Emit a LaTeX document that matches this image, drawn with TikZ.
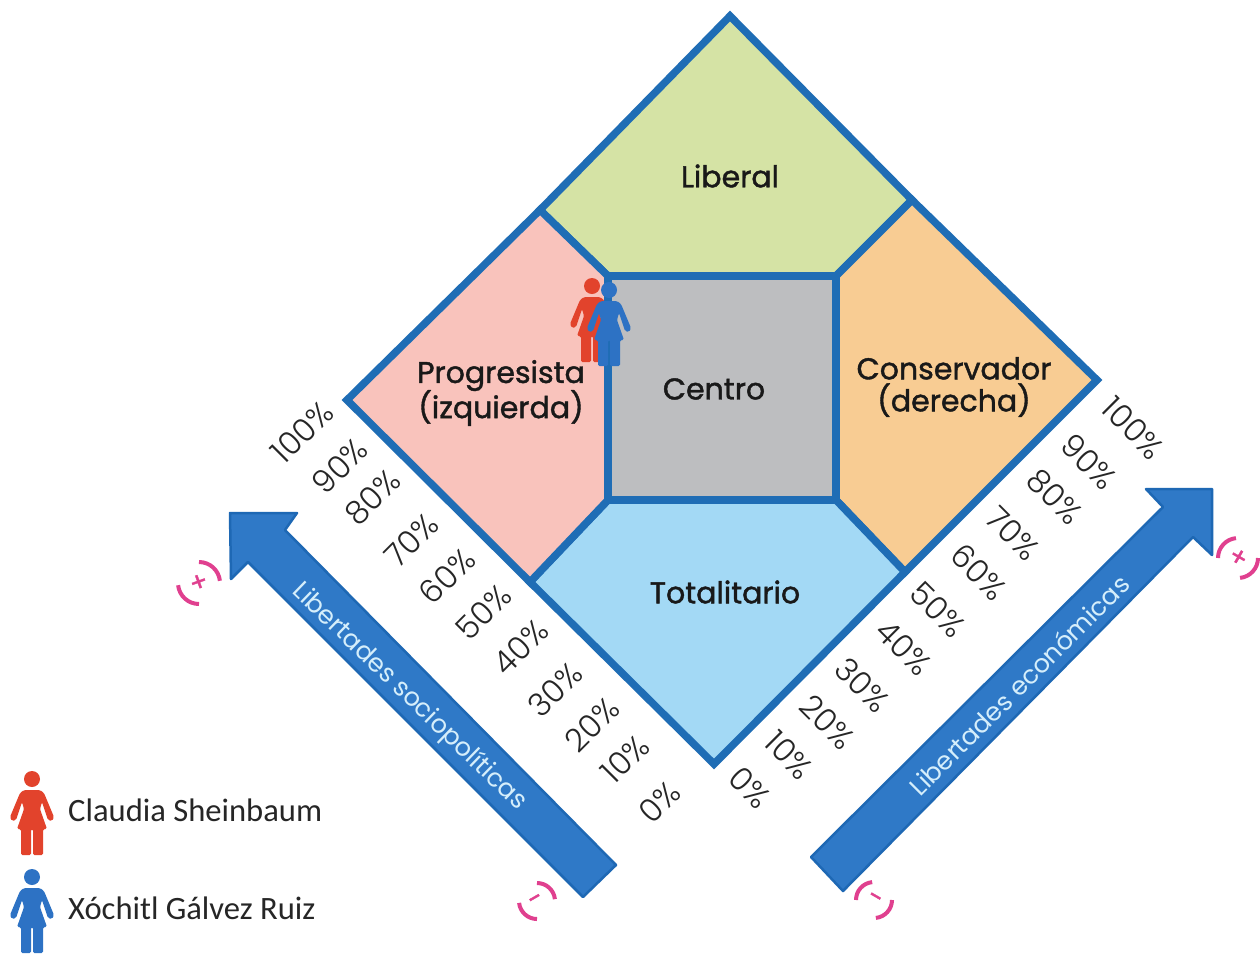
\documentclass[tikz,border=0pt]{standalone}
\usepackage{fontspec}
\setmainfont{Poppins}
\newfontfamily\lab[FakeBold=1.4]{Poppins}
\newfontfamily\thinf{Poppins Light}
\newfontfamily\legf{Carlito}
\definecolor{edgeb}{HTML}{1F6DB5}
\definecolor{arrowb}{HTML}{2F79C7}
\definecolor{arrowd}{HTML}{1E68B4}
\definecolor{gfill}{HTML}{D5E3A5}
\definecolor{pfill}{HTML}{F9C3BC}
\definecolor{ofill}{HTML}{F8CC93}
\definecolor{bfill}{HTML}{A3D9F5}
\definecolor{cfill}{HTML}{BDBEC0}
\definecolor{redp}{HTML}{E2432C}
\definecolor{bluep}{HTML}{2D72C4}
\definecolor{pinks}{HTML}{E0408F}
\definecolor{atext}{HTML}{D5EEFB}
\tikzset{
  region/.style={draw=edgeb,line width=7.5pt,line join=miter},
  zone/.style={font=\lab\fontsize{30}{34}\selectfont,inner sep=0pt,align=center,text=black!90},
  pctl/.style={font=\thinf\fontsize{32}{36}\selectfont,inner sep=0pt,rotate=45,text=black!85},
  pctr/.style={font=\thinf\fontsize{32}{36}\selectfont,inner sep=0pt,rotate=-45,text=black!85},
  bigarrow/.style={fill=arrowb,draw=arrowd,line width=2.5pt,line join=round},
  arrowlabel/.style={font=\fontsize{25.5}{30}\selectfont,text=atext,inner sep=0pt},
  legendtext/.style={font=\legf\fontsize{32.6}{36}\selectfont,anchor=west,inner sep=0pt,text=black!85},
  signarc/.style={draw=pinks,line width=4pt},
  signmark/.style={font=\lab\fontsize{26}{26}\selectfont,text=pinks,inner sep=0pt},
  pics/person/.style={code={
    \fill[#1] (0,0) circle[radius=8];
    \fill[#1,rounded corners=1.5pt] (-8,11) -- (8,11) -- (12,14) -- (22,38) -- (20,42) -- (16,41) -- (10,23) -- (8,30) -- (15,50) -- (11,50) -- (11,76) -- (1,76) -- (1,50) -- (-1,50) -- (-1,76) -- (-11,76) -- (-11,50) -- (-15,50) -- (-8,30) -- (-10,23) -- (-16,41) -- (-20,42) -- (-22,38) -- (-12,14) -- cycle;
  }}
}
\newcommand{\pmsign}[7]{%
  \draw[signarc] ($(#1,#2)+(#3:#7)$) arc[start angle=#3,delta angle=84,radius=#7];
  \draw[signarc] ($(#1,#2)+(#3+180:#7)$) arc[start angle=#3+180,delta angle=84,radius=#7];
  \node[signmark,rotate=#5] (#6) at (#1,#2) {#4};
}
\usetikzlibrary{calc}
\begin{document}
\begin{tikzpicture}[x=1pt,y=-1pt]
\useasboundingbox (0,0) rectangle (1260,954);
\fill[white] (0,0) rectangle (1260,954);

% regions
\coordinate (T) at (730,16);
\coordinate (R) at (1097,380);
\coordinate (B) at (714,764);
\coordinate (L) at (347,400);
\coordinate (c1) at (608,276);
\coordinate (c2) at (836,276);
\coordinate (c3) at (836,500);
\coordinate (c4) at (608,500);
\coordinate (tl) at (540,210);
\coordinate (tr) at (912,200);
\coordinate (br) at (905,572);
\coordinate (bl) at (530,582);
\filldraw[region,fill=gfill] (T) -- (tr) -- (c2) -- (c1) -- (tl) -- cycle;
\filldraw[region,fill=ofill] (tr) -- (R) -- (br) -- (c3) -- (c2) -- cycle;
\filldraw[region,fill=bfill] (c4) -- (c3) -- (br) -- (B) -- (bl) -- cycle;
\filldraw[region,fill=pfill] (tl) -- (c1) -- (c4) -- (bl) -- (L) -- cycle;
\filldraw[region,fill=cfill] (c1) -- (c2) -- (c3) -- (c4) -- cycle;

% zone labels
\node[zone] (liberal) at (730,176) {Liberal};
\node[zone] (prog) at (501,393) {Progresista\\[-2pt](izquierda)};
\node[zone] (centro) at (714,389) {Centro};
\node[zone] (cons) at (954,387) {Conservador\\[-2pt](derecha)};
\node[zone] (total) at (725,592) {Totalitario};

% figures on the diagram
\pic at (592,286) {person=redp};
\pic at (609,290) {person=bluep};

% percent scales
\node[pctl] (l100) at (302,432) {100\%};
\node[pctl] (l90) at (340,466) {90\%};
\node[pctl] (l80) at (373,497) {80\%};
\node[pctl] (l70) at (412,540) {70\%};
\node[pctl] (l60) at (447,576) {60\%};
\node[pctl] (l50) at (484,612) {50\%};
\node[pctl] (l40) at (521,647) {40\%};
\node[pctl] (l30) at (555,690) {30\%};
\node[pctl] (l20) at (592,725) {20\%};
\node[pctl] (l10) at (625,759) {10\%};
\node[pctl] (l0) at (660,802) {0\%};
\node[pctr] (r100) at (1133,428) {100\%};
\node[pctr] (r90) at (1089,462) {90\%};
\node[pctr] (r80) at (1055,497) {80\%};
\node[pctr] (r70) at (1013,534) {70\%};
\node[pctr] (r60) at (979,572) {60\%};
\node[pctr] (r50) at (938,610) {50\%};
\node[pctr] (r40) at (904,648) {40\%};
\node[pctr] (r30) at (862,685) {30\%};
\node[pctr] (r20) at (827,722) {20\%};
\node[pctr] (r10) at (789,755) {10\%};
\node[pctr] (r0) at (750,788) {0\%};

% axis arrows
\filldraw[bigarrow] (230,513) -- (297,513) -- (285,530) -- (616,865) -- (583,897) -- (248,562) -- (231,579) -- cycle;
\filldraw[bigarrow] (1212,489) -- (1146,489) -- (1163,507) -- (811,857) -- (843,891) -- (1193,537) -- (1212,555) -- cycle;
\node[arrowlabel,rotate=-44] (soc) at (409,697) {Libertades sociopolíticas};
\node[arrowlabel,rotate=45] (eco) at (1019,685) {Libertades económicas};

% signs
\pmsign{199}{583}{-90}{+}{20}{s1}{21}
\pmsign{1238}{558}{-180}{+}{-30}{s2}{20}
\pmsign{537}{901}{-90}{-}{30}{s3}{18}
\pmsign{874}{900}{-180}{-}{-30}{s4}{18}

% legend
\pic at (32,779) {person=redp};
\pic at (32,877) {person=bluep};
\node[legendtext] (cs) at (68,810) {Claudia Sheinbaum};
\node[legendtext] (xg) at (68,908) {Xóchitl Gálvez Ruiz};
\end{tikzpicture}
\end{document}
